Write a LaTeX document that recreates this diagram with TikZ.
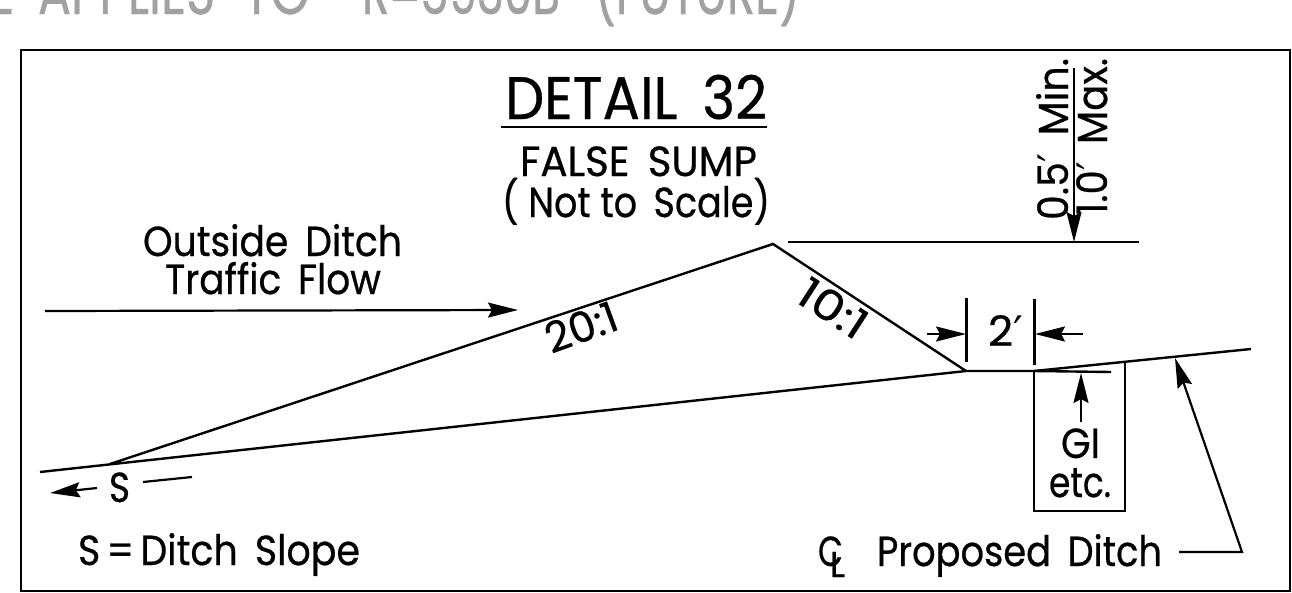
\documentclass[tikz,border=0pt]{standalone}
\usepackage{fontspec}
\usepackage{graphicx}
\usetikzlibrary{arrows.meta}
\setmainfont[FakeBold=0.6]{Poppins}
\newfontfamily\primefont{DejaVu Sans}
\newcommand{\prm}{{\primefont ′}}
\newcommand{\fitt}[3]{\resizebox{#1pt}{\height}{\fontsize{#2pt}{#2pt}\selectfont #3}}
\newcommand{\gap}{\hspace{0.45em}}
\tikzset{
  x=1pt,y=-1pt,
  ln/.style={line width=2.4pt,black,line join=miter},
  thin ln/.style={line width=2.2pt,black},
  arr/.style={line width=2.2pt,black,-{Stealth[length=30pt,width=15pt,inset=4pt]}},
  lab/.style={inner sep=0pt,outer sep=0pt,anchor=base west,text=black},
  rlab/.style={inner sep=0pt,outer sep=0pt,anchor=base,text=black}
}
\begin{document}
\begin{tikzpicture}
\useasboundingbox (0,0) rectangle (1292,592);
\fill[white] (0,0) rectangle (1292,592);
% grey cut-off heading
\node[lab,text=black!37] (head) at (-15,14) {\fitt{30}{66}{E}\hspace{23pt}\fitt{177}{66}{APPLIES}\hspace{28pt}\fitt{67}{66}{TO}\hspace{52pt}\fitt{198}{66}{R\raisebox{-0.13em}{--}5930B}\hspace{35pt}\fitt{205}{66}{(FUTURE)}};
% frame
\coordinate (fa) at (21,50); \coordinate (fb) at (1290,591);
\draw[line width=2.8pt,black] (fa) rectangle (fb);
% titles
\node[lab] (title) at (505,119) {\fitt{262}{60}{DETAIL\gap 32}};
\coordinate (ula) at (501,127); \coordinate (ulb) at (767,127);
\draw[line width=2.6pt] (ula) -- (ulb);
\node[lab] (sump) at (520,176) {\fitt{237}{42}{FALSE\gap SUMP}};
\node[lab] (scale) at (502,217) {\fitt{268}{42}{( Not to\gap Scale)}};
\node[lab] (out) at (143,256) {\fitt{259}{42}{Outside\gap Ditch}};
\node[lab] (flow) at (165,294) {\fitt{216}{42}{Traffic\gap Flow}};
% ground
\coordinate (dl) at (40,472); \coordinate (toe) at (110,464); \coordinate (apex) at (773,244);
\coordinate (fl) at (966,371); \coordinate (fr) at (1034,371); \coordinate (dr) at (1251,349);
\coordinate (fe) at (1111,372);
\draw[ln] (dl) -- (fl) -- (fr) -- (dr);
\draw[ln] (toe) -- (apex) -- (fl);
\draw[ln] (fr) -- (fe);
% flow arrow
\coordinate (fa1) at (45,311); \coordinate (fa2) at (518,310);
\draw[arr] (fa1) -- (fa2);
% slopes
\node[inner sep=0pt,rotate=20] (s20) at (581,327) {\fitt{74}{42}{20:1}};
\node[inner sep=0pt,rotate=-33] (s10) at (833,308) {\fitt{74}{42}{10:1}};
% height dimension
\coordinate (ta) at (788,242); \coordinate (tb) at (1139,242);
\coordinate (va) at (1074,68); \coordinate (vb) at (1074,242);
\draw[ln] (ta) -- (tb);
\draw[arr] (va) -- (vb);
\node[rlab,rotate=90,anchor=base west] (min) at (1068,220) {\fitt{162}{42}{0.5\prm\gap Min.}};
\node[rlab,rotate=90,anchor=base west] (max) at (1107,215) {\fitt{157}{42}{1.0\prm\gap Max.}};
% 2' dimension
\coordinate (t1a) at (966.5,298); \coordinate (t1b) at (966.5,362);
\coordinate (t2a) at (1034.5,299); \coordinate (t2b) at (1034.5,365);
\draw[thin ln] (t1a) -- (t1b);
\draw[thin ln] (t2a) -- (t2b);
\coordinate (d1) at (927,334); \coordinate (d1e) at (966,334);
\coordinate (d2) at (1083,334); \coordinate (d2e) at (1035,334);
\draw[arr] (d1) -- (d1e);
\draw[arr] (d2) -- (d2e);
\node[lab] (two) at (988,346) {\fitt{35}{42}{2\prm}};
% GI box
\coordinate (ba) at (1034,372); \coordinate (bb) at (1034,511); \coordinate (bc) at (1125,511); \coordinate (bd) at (1125,363);
\draw[thin ln] (ba) -- (bb) -- (bc) -- (bd);
\coordinate (g1) at (1081,422); \coordinate (g2) at (1081,373);
\draw[arr] (g1) -- (g2);
\node[lab] (gi) at (1061,458) {\fitt{39}{42}{GI}};
\node[lab] (etc) at (1049,497) {\fitt{62}{42}{etc.}};
% leader
\coordinate (l1) at (1179,552); \coordinate (l2) at (1242,552); \coordinate (l3) at (1175,358);
\draw[arr,line join=miter] (l1) -- (l2) -- (l3);
\node[lab] (prop) at (877,566) {\fitt{285}{42}{Proposed\gap Ditch}};
\node[lab] (clc) at (818,566) {\fitt{25}{42}{C}};
\node[lab] (cll) at (830,577) {\fitt{15}{36}{L}};
% S
\node[lab] (s) at (109,502) {\fitt{21}{42}{S}};
\coordinate (sa1) at (97,488); \coordinate (sa2) at (50,493);
\draw[arr] (sa1) -- (sa2);
\coordinate (sl1) at (143,482); \coordinate (sl2) at (192,477);
\draw[thin ln] (sl1) -- (sl2);
\node[lab] (seq) at (78,565) {\fitt{282}{42}{S\,=\,Ditch\gap Slope}};
\end{tikzpicture}
\end{document}
